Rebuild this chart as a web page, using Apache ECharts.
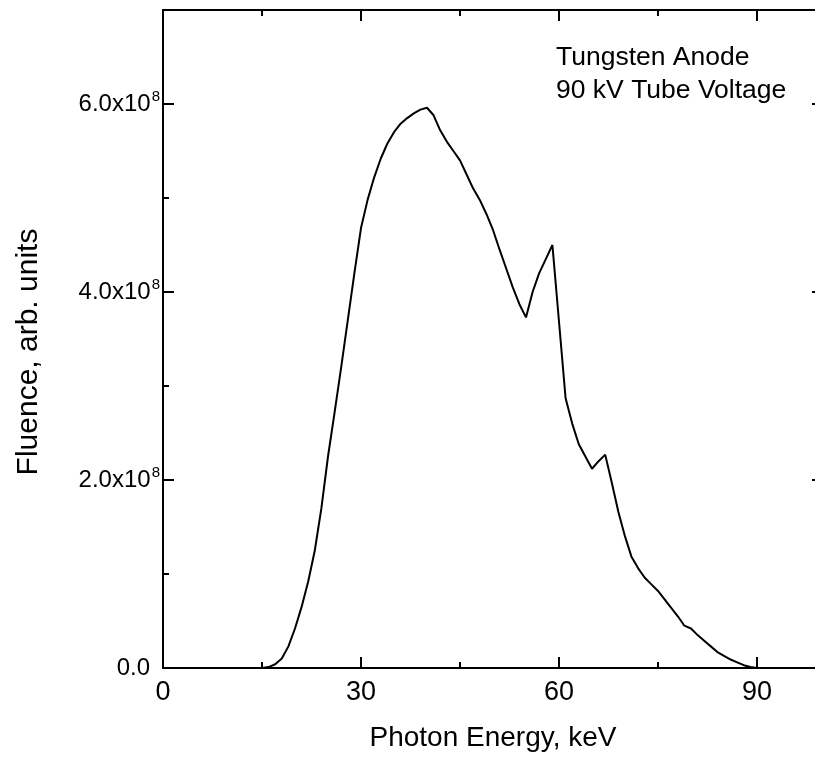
<!DOCTYPE html>
<html>
<head>
<meta charset="utf-8">
<script src="https://cdn.jsdelivr.net/npm/echarts@6/dist/echarts.min.js"></script>
<style>
  html, body { margin: 0; padding: 0; background: #fff; }
  #spectrum { width: 815px; height: 757px; }
</style>
</head>
<body>
<div id="spectrum"></div>
<script>
// photon energy (keV)
var energy = [15, 16, 17, 18, 19, 20, 21, 22, 23, 24, 25, 26, 27, 28, 29, 30,
  31, 32, 33, 34, 35, 36, 37, 38, 39, 40, 41, 42, 43, 44, 45, 46, 47, 48, 49, 50,
  51, 52, 53, 54, 55, 56, 57, 58, 59, 61, 62, 63, 64, 65, 66, 67, 68, 69, 70,
  71, 72, 73, 74, 75, 76, 77, 78, 79, 80, 81, 82, 83, 84, 85, 86, 87, 88, 89, 90];
// fluence in units of 1e8
var fluence = [0, 0.01, 0.04, 0.1, 0.23, 0.42, 0.65, 0.92, 1.25, 1.7, 2.25, 2.72, 3.2, 3.7, 4.2, 4.68,
  4.98, 5.22, 5.42, 5.58, 5.7, 5.79, 5.85, 5.9, 5.94, 5.96, 5.88, 5.72, 5.6, 5.5, 5.4, 5.25, 5.1, 4.98, 4.83, 4.66,
  4.45, 4.25, 4.05, 3.87, 3.73, 4.0, 4.2, 4.35, 4.5, 2.87, 2.6, 2.38, 2.25, 2.12, 2.2, 2.27, 1.97, 1.66, 1.4,
  1.18, 1.06, 0.96, 0.89, 0.82, 0.73, 0.64, 0.55, 0.45, 0.42, 0.35, 0.29, 0.23, 0.17, 0.13, 0.09, 0.06, 0.03, 0.01, 0];
var xTicks = [0, 30, 60, 90];
var yTicks = [0, 2, 4, 6];
var noteLines = ['Tungsten Anode', '90 kV Tube Voltage'];

var FONT = 'Liberation Sans, Arial, sans-serif';

var chart = echarts.init(document.getElementById('spectrum'));

var points = energy.map(function (e, i) { return [e, fluence[i]]; });

// same box for both grids: grid 1 only carries the short minor ticks
// the right edge of the frame lies just past the page, as in the picture
var box = { left: 163, top: 10, width: 660, height: 658, outerBoundsMode: 'none', containLabel: false };

function xAx(grid, pos, step, len, labels) {
  return {
    type: 'value', gridIndex: grid, position: pos, min: 0, max: 100, interval: step,
    axisLine: { show: grid === 0, onZero: false, lineStyle: { color: '#000', width: 2 } },
    axisTick: { inside: true, length: len, lineStyle: { color: '#000', width: 2 } },
    splitLine: { show: false },
    axisLabel: {
      show: labels, margin: 11, color: '#000', fontFamily: FONT, fontSize: 27,
      showMaxLabel: false,
      formatter: function (v) { return xTicks.indexOf(v) >= 0 ? String(v) : ''; }
    },
    name: labels ? 'Photon Energy, keV' : '',
    nameLocation: 'middle', nameGap: 56,
    nameTextStyle: { color: '#000', fontFamily: FONT, fontSize: 28 }
  };
}

function yAx(grid, pos, step, len, labels) {
  return {
    type: 'value', gridIndex: grid, position: pos, min: 0, max: 7, interval: step,
    axisLine: { show: grid === 0, onZero: false, lineStyle: { color: '#000', width: 2 } },
    axisTick: { inside: true, length: len, lineStyle: { color: '#000', width: 2 } },
    splitLine: { show: false },
    axisLabel: {
      show: labels, margin: 3, color: '#000', showMaxLabel: false,
      formatter: function (v) {
        if (yTicks.indexOf(v) < 0) return '';
        if (v === 0) return '{b|0.0}{p|}';
        return '{b|' + v.toFixed(1) + 'x10}{s|8}';
      },
      rich: {
        b: { fontFamily: FONT, fontSize: 24, color: '#000' },
        s: { fontFamily: FONT, fontSize: 15, color: '#000', verticalAlign: 'top', padding: [0, 0, 14, 1] },
        p: { width: 10 }
      }
    }
  };
}

var option = {
  animation: false,
  grid: [
    Object.assign({}, box),
    Object.assign({}, box)
  ],
  xAxis: [
    xAx(0, 'bottom', 30, 11, true),
    xAx(0, 'top', 30, 11, false),
    xAx(1, 'bottom', 15, 6, false),
    xAx(1, 'top', 15, 6, false)
  ],
  yAxis: [
    yAx(0, 'left', 2, 11, true),
    yAx(0, 'right', 2, 11, false),
    yAx(1, 'left', 1, 6, false),
    yAx(1, 'right', 1, 6, false)
  ],
  graphic: [{
    type: 'text', left: 556, top: 41,
    style: { text: noteLines.join('\n'), fill: '#000', font: '26.5px ' + FONT, lineHeight: 33 }
  }, {
    // y axis title, set a little below the plot middle like the original
    type: 'text', x: 29, y: 352, rotation: Math.PI / 2,
    style: { text: 'Fluence, arb. units', fill: '#000', font: '30px ' + FONT, textAlign: 'center', textVerticalAlign: 'middle' }
  }],
  series: [{
    type: 'line',
    xAxisIndex: 0, yAxisIndex: 0,
    data: points,
    showSymbol: false,
    smooth: false,
    lineStyle: { color: '#000', width: 2 }
  }]
};

chart.setOption(option);
</script>
</body>
</html>
